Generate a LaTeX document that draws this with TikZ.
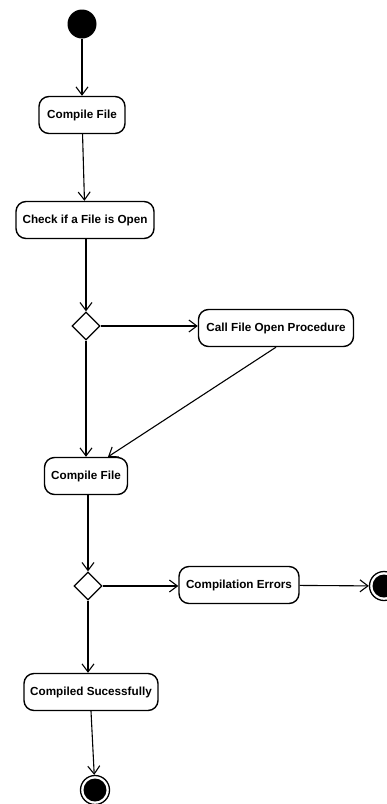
\documentclass[tikz,border=0pt]{standalone}
\usepackage{fontspec}
\setmainfont{Liberation Sans}
\usetikzlibrary{arrows.meta,shapes.geometric}
\begin{document}
\begin{tikzpicture}[x=1pt,y=-1pt,
  action/.style={draw, line width=1.4pt, rounded corners=10pt,
    font=\bfseries\fontsize{11.7}{13}\selectfont,
    minimum height=37pt, inner xsep=3pt},
  decision/.style={draw, diamond, line width=1.3pt, minimum width=28pt,
    minimum height=28pt, inner sep=0pt},
  flow/.style={line width=1.1pt, -{Straight Barb[length=8pt,width=12pt]}},
  startnode/.style={circle, fill=black, minimum size=29pt, inner sep=0pt},
  endnode/.style={circle, draw, line width=1.3pt, minimum size=29pt,
    inner sep=0pt,
    path picture={\fill[black] (path picture bounding box.center) circle (11.5pt);}}
]
\useasboundingbox (0,0) rectangle (387,804);

% activities and control nodes
\node[startnode] (start) at (82,24) {};
\node[action, minimum width=86pt] (compile1) at (82,115) {Compile File};
\node[action, minimum width=138pt] (check) at (85,220) {Check if a File is Open};
\node[decision] (dec1) at (86,326) {};
\node[action, minimum width=155pt] (callopen) at (276,328) {Call File Open Procedure};
\node[action, minimum width=83pt] (compile2) at (86,476) {Compile File};
\node[decision] (dec2) at (88,586) {};
\node[action, minimum width=120pt] (errors) at (239,585) {Compilation Errors};
\node[endnode] (enderr) at (384,586) {};
\node[action, minimum width=134pt] (success) at (91,692) {Compiled Sucessfully};
\node[endnode] (endok) at (95,790) {};

% transitions
\draw[flow] (start) -- (compile1);
\draw[flow] (compile1) -- (check);
\draw[flow] (check.south -| dec1) -- (dec1);
\draw[flow] (dec1) -- (callopen.west |- dec1);
\draw[flow] (dec1) -- (compile2);
\draw[flow] (callopen.south) -- ([xshift=22pt]compile2.north);
\draw[flow] (dec2) -- (errors.west |- dec2);
\draw[flow] (errors) -- (enderr);
\draw[flow] (compile2.south -| dec2) -- (dec2);
\draw[flow] (dec2) -- (success.north -| dec2);
\draw[flow] (success.south) -- (endok);
\end{tikzpicture}
\end{document}
